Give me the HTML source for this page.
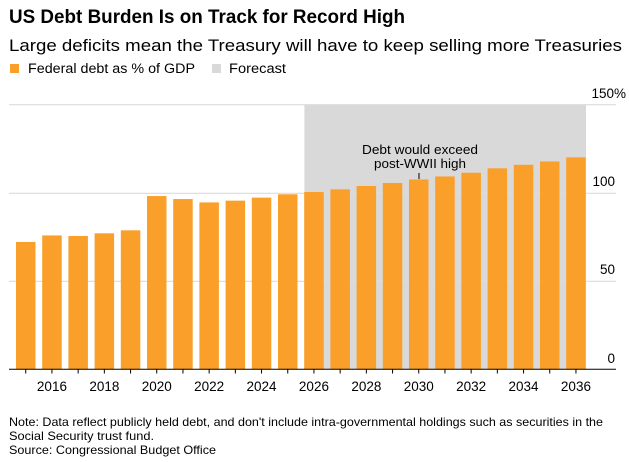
<!DOCTYPE html>
<html><head><meta charset="utf-8"><style>
html,body{margin:0;padding:0;background:#fff;}
svg{display:block;font-family:"Liberation Sans",Arial,sans-serif;}
</style></head><body>
<svg width="629" height="462" viewBox="0 0 629 462" xmlns="http://www.w3.org/2000/svg">
<text x="9" y="23" font-size="19" font-weight="bold" fill="#000" textLength="396" lengthAdjust="spacingAndGlyphs">US Debt Burden Is on Track for Record High</text>
<text x="9" y="51" font-size="17" fill="#000" textLength="613" lengthAdjust="spacingAndGlyphs">Large deficits mean the Treasury will have to keep selling more Treasuries</text>
<rect x="10" y="64" width="9" height="9" fill="#fa9f2a"/>
<text x="28" y="73" font-size="13.5" fill="#000" textLength="167" lengthAdjust="spacingAndGlyphs">Federal debt as % of GDP</text>
<rect x="212" y="64" width="9" height="9" fill="#d9d9d9"/>
<text x="229" y="73" font-size="13.5" fill="#000" textLength="57" lengthAdjust="spacingAndGlyphs">Forecast</text>

<rect x="304.4" y="104.7" width="281.6" height="264.6" fill="#d9d9d9"/>
<g stroke="#dcdcdc" stroke-width="1.2">
<line x1="9" y1="104.7" x2="616" y2="104.7"/>
<line x1="9" y1="193.3" x2="616" y2="193.3"/>
<line x1="9" y1="281.3" x2="616" y2="281.3"/>
</g>
<g fill="#fa9f2a" id="bars"></g>
<line x1="9" y1="369.3" x2="616" y2="369.3" stroke="#000" stroke-width="1"/>
<g id="ticks" stroke="#000" stroke-width="1"></g>
<g id="labels" font-size="13.5" fill="#000" text-anchor="middle"></g>
<g font-size="13.5" fill="#000" text-anchor="end">
<text x="626" y="98">150%</text>
<text x="615" y="186">100</text>
<text x="615" y="274">50</text>
<text x="615" y="363">0</text>
</g>
<text x="420" y="154" font-size="13" fill="#000" text-anchor="middle" textLength="116" lengthAdjust="spacingAndGlyphs">Debt would exceed</text>
<text x="420" y="168" font-size="13" fill="#000" text-anchor="middle" textLength="92" lengthAdjust="spacingAndGlyphs">post-WWII high</text>
<line x1="419" y1="173" x2="419" y2="179" stroke="#000" stroke-width="1"/>
<g font-size="12" fill="#000">
<text x="9" y="426" textLength="594" lengthAdjust="spacingAndGlyphs">Note: Data reflect publicly held debt, and don't include intra-governmental holdings such as securities in the</text>
<text x="9" y="440" textLength="145" lengthAdjust="spacingAndGlyphs">Social Security trust fund.</text>
<text x="9" y="454" textLength="207" lengthAdjust="spacingAndGlyphs">Source: Congressional Budget Office</text>
</g>
</svg>
<script>
var v=[72.1,75.8,75.5,77,78.7,98.1,96.4,94.5,95.5,97.2,99.1,100.4,101.9,103.8,105.5,107.5,109.2,111.3,113.8,115.8,117.7,120];
var ns="http://www.w3.org/2000/svg",b=document.getElementById("bars"),t=document.getElementById("ticks"),l=document.getElementById("labels");
for(var i=0;i<v.length;i++){
 var x=16+i*26.2,h=v[i]*88.3/50,r=document.createElementNS(ns,"rect");
 r.setAttribute("x",x);r.setAttribute("width",19.5);r.setAttribute("y",369.3-h);r.setAttribute("height",h);b.appendChild(r);
 var c=x+9.75,k=document.createElementNS(ns,"line");
 k.setAttribute("x1",c);k.setAttribute("x2",c);k.setAttribute("y1",369.3);k.setAttribute("y2",373.5);t.appendChild(k);
 var yr=2015+i;
 if(yr%2==0){var tx=document.createElementNS(ns,"text");tx.setAttribute("x",c);tx.setAttribute("y",391);tx.textContent=yr;l.appendChild(tx);}
}
</script>
</body></html>
